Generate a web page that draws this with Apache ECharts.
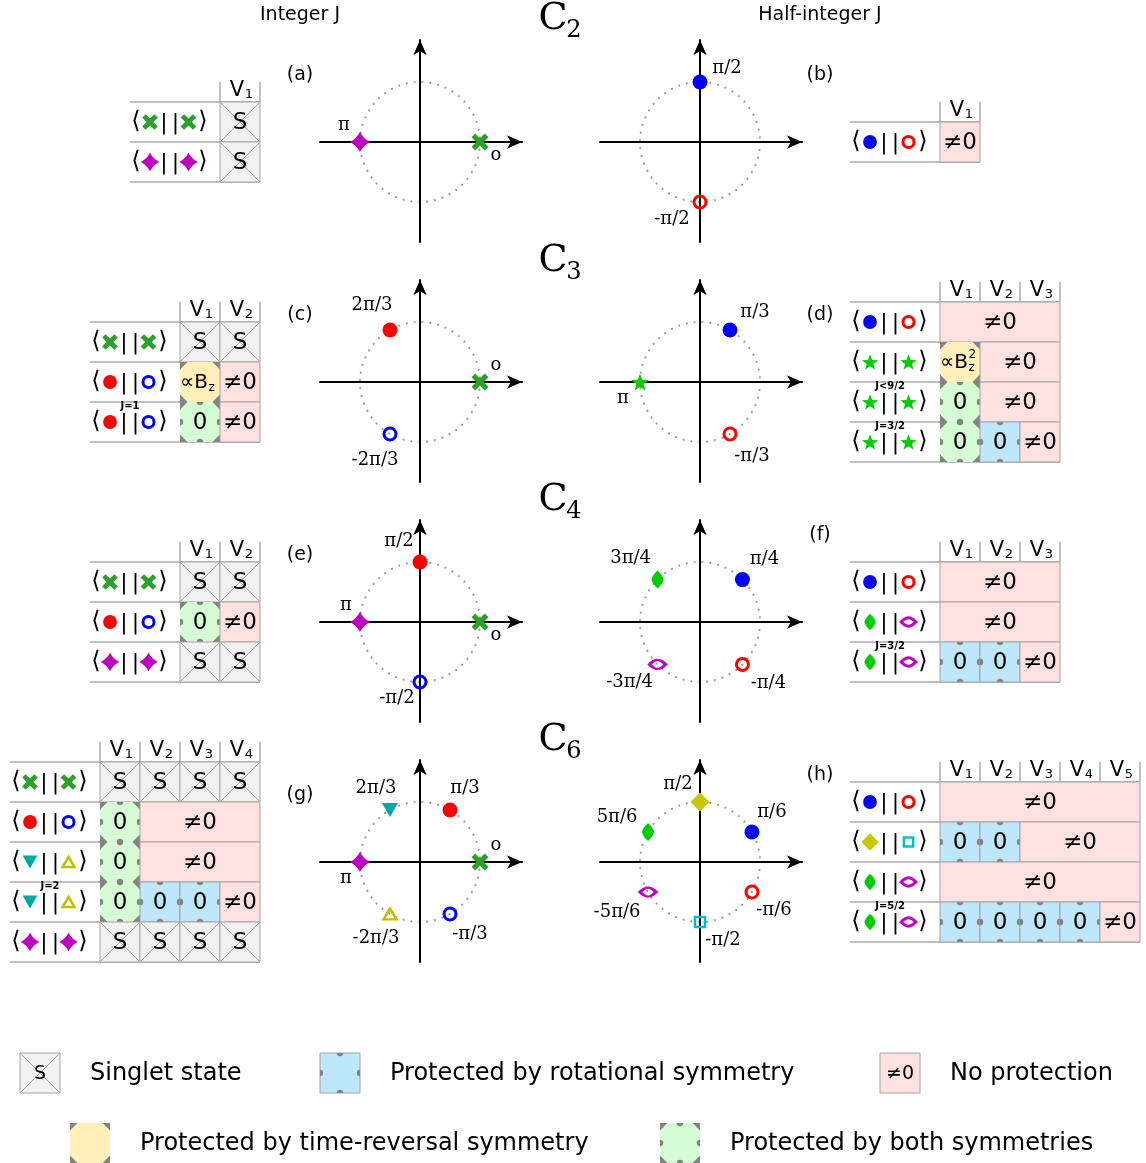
<!DOCTYPE html>
<html><head><meta charset="utf-8">
<script src="https://cdn.jsdelivr.net/npm/echarts@6/dist/echarts.min.js"></script>
<style>html,body{margin:0;padding:0;background:#fff}#c{width:1146px;height:1163px}</style>
</head><body><div id="c"></div>
<script>
// ================= DATA =================
const columnTitles = ['Integer J', 'Half-integer J'];
const groupSubs = ['2', '3', '4', '6'];
const panelNames = ['(a)', '(b)', '(c)', '(d)', '(e)', '(f)', '(g)', '(h)'];

// unit-circle panels: angle (degrees), marker, tick label
const aAngles = [180, 0];               const aMarks = ['D4', 'X'];                 const aLabels = ['π', 'o'];
const bAngles = [90, -90];              const bMarks = ['BDOT', 'RRING'];           const bLabels = ['π/2', '-π/2'];
const cAngles = [120, 0, -120];         const cMarks = ['RDOT', 'X', 'BRING'];      const cLabels = ['2π/3', 'o', '-2π/3'];
const dAngles = [60, 180, -60];         const dMarks = ['BDOT', 'STAR', 'RRING'];   const dLabels = ['π/3', 'π', '-π/3'];
const eAngles = [90, 180, 0, -90];      const eMarks = ['RDOT', 'D4', 'X', 'BRING']; const eLabels = ['π/2', 'π', 'o', '-π/2'];
const fAngles = [135, 45, -135, -45];   const fMarks = ['LEAF', 'BDOT', 'EYE', 'RRING']; const fLabels = ['3π/4', 'π/4', '-3π/4', '-π/4'];
const gAngles = [120, 60, 0, 180, -120, -60]; const gMarks = ['CTRI', 'RDOT', 'X', 'D4', 'OTRI', 'BRING']; const gLabels = ['2π/3', 'π/3', 'o', 'π', '-2π/3', '-π/3'];
const hAngles = [90, 30, 150, -150, -30, -90]; const hMarks = ['YDMD', 'BDOT', 'LEAF', 'EYE', 'RRING', 'CSQ']; const hLabels = ['π/2', 'π/6', '5π/6', '-5π/6', '-π/6', '-π/2'];

// tables: column subscripts, row marker pairs, row superscripts, cells [type, span]
const aCols = ['1']; const aRows = [['X', 'X'], ['D4', 'D4']]; const aSups = ['', ''];
const aCells = [[['S', 1]], [['S', 1]]];
const bCols = ['1']; const bRows = [['BDOT', 'RRING']]; const bSups = [''];
const bCells = [[['N', 1]]];
const cCols = ['1', '2']; const cRows = [['X', 'X'], ['RDOT', 'BRING'], ['RDOT', 'BRING']]; const cSups = ['', '', 'J=1'];
const cCells = [[['S', 1], ['S', 1]], [['T', 1], ['N', 1]], [['B', 1], ['N', 1]]];
const dCols = ['1', '2', '3']; const dRows = [['BDOT', 'RRING'], ['STAR', 'STAR'], ['STAR', 'STAR'], ['STAR', 'STAR']]; const dSups = ['', '', 'J<9/2', 'J=3/2'];
const dCells = [[['N', 3]], [['T2', 1], ['N', 2]], [['B', 1], ['N', 2]], [['B', 1], ['R', 1], ['N', 1]]];
const eCols = ['1', '2']; const eRows = [['X', 'X'], ['RDOT', 'BRING'], ['D4', 'D4']]; const eSups = ['', '', ''];
const eCells = [[['S', 1], ['S', 1]], [['B', 1], ['N', 1]], [['S', 1], ['S', 1]]];
const fCols = ['1', '2', '3']; const fRows = [['BDOT', 'RRING'], ['LEAF', 'EYE'], ['LEAF', 'EYE']]; const fSups = ['', '', 'J=3/2'];
const fCells = [[['N', 3]], [['N', 3]], [['R', 1], ['R', 1], ['N', 1]]];
const gCols = ['1', '2', '3', '4']; const gRows = [['X', 'X'], ['RDOT', 'BRING'], ['CTRI', 'OTRI'], ['CTRI', 'OTRI'], ['D4', 'D4']]; const gSups = ['', '', '', 'J=2', ''];
const gCells = [[['S', 1], ['S', 1], ['S', 1], ['S', 1]], [['B', 1], ['N', 3]], [['B', 1], ['N', 3]], [['B', 1], ['R', 1], ['R', 1], ['N', 1]], [['S', 1], ['S', 1], ['S', 1], ['S', 1]]];
const hCols = ['1', '2', '3', '4', '5']; const hRows = [['BDOT', 'RRING'], ['YDMD', 'CSQ'], ['LEAF', 'EYE'], ['LEAF', 'EYE']]; const hSups = ['', '', '', 'J=5/2'];
const hCells = [[['N', 5]], [['R', 1], ['R', 1], ['N', 3]], [['N', 5]], [['R', 1], ['R', 1], ['R', 1], ['R', 1], ['N', 1]]];

const legendTypes = ['S', 'R', 'N', 'T', 'B'];
const legendTexts = ['Singlet state', 'Protected by rotational symmetry', 'No protection', 'Protected by time-reversal symmetry', 'Protected by both symmetries'];

// ================= STYLE / LAYOUT =================
const MARKS = {
  X:    {path: 'M0,3.5L3.5,0L8,4.5L12.5,0L16,3.5L11.5,8L16,12.5L12.5,16L8,11.5L3.5,16L0,12.5L4.5,8Z', w: 17, h: 17, fill: '#2ca02c'},
  D4:   {path: 'M10,0Q13.4,6.6 20,10Q13.4,13.4 10,20Q6.6,13.4 0,10Q6.6,6.6 10,0Z', w: 20, h: 20, fill: '#bf00bf'},
  RDOT: {shape: 'circle', w: 15, h: 15, fill: '#ff0000'},
  BDOT: {shape: 'circle', w: 15, h: 15, fill: '#0000ff'},
  RRING:{shape: 'circle', w: 12, h: 12, stroke: '#ff0000', lw: 3},
  BRING:{shape: 'circle', w: 12, h: 12, stroke: '#0000ff', lw: 3},
  CTRI: {path: 'M0,0L16,0L8,14Z', w: 16, h: 14, fill: '#00a8a8'},
  OTRI: {path: 'M8,0L16,14L0,14Z', w: 13, h: 11, stroke: '#c0c000', lw: 2.5},
  STAR: {path: 'M10,0L12.35,6.76L19.51,6.91L13.8,11.24L15.88,18.09L10,14L4.12,18.09L6.2,11.24L0.49,6.91L7.65,6.76Z', w: 18, h: 17, fill: '#00cc00'},
  LEAF: {path: 'M6,0C10,4 12,7 12,9C12,11 10,14 6,18C2,14 0,11 0,9C0,7 2,4 6,0Z', w: 12, h: 18, fill: '#00cc00'},
  EYE:  {path: 'M0,5C3,2 6,0 9,0C12,0 15,2 18,5C15,8 12,10 9,10C6,10 3,8 0,5Z', w: 16, h: 9, stroke: '#c000c0', lw: 3},
  YDMD: {path: 'M9,0L18,9L9,18L0,9Z', w: 19, h: 19, fill: '#c8c800'},
  CSQ:  {shape: 'rect', w: 10, h: 10, stroke: '#00c0c0', lw: 2.5}
};

const PANELS = [
  {angles: aAngles, marks: aMarks, labels: aLabels, center: [420, 142], off: [[-16, -17], [16, 13]]},
  {angles: bAngles, marks: bMarks, labels: bLabels, center: [700, 142], off: [[27, -14], [-28, 17]]},
  {angles: cAngles, marks: cMarks, labels: cLabels, center: [420, 382], off: [[-18, -25], [16, -17], [-15, 26]]},
  {angles: dAngles, marks: dMarks, labels: dLabels, center: [700, 382], off: [[25, -18], [-17, 16], [22, 22]]},
  {angles: eAngles, marks: eMarks, labels: eLabels, center: [420, 622], off: [[-21, -21], [-14, -17], [16, 13], [-23, 16]]},
  {angles: fAngles, marks: fMarks, labels: fLabels, center: [700, 622], off: [[-27, -21], [22, -20], [-28, 18], [26, 19]]},
  {angles: gAngles, marks: gMarks, labels: gLabels, center: [420, 862], off: [[-14, -22], [15, -22], [16, -17], [-14, 16], [-14, 24], [20, 20]]},
  {angles: hAngles, marks: hMarks, labels: hLabels, center: [700, 862], off: [[-22, -18], [20, -20], [-31, -15], [-31, 20], [22, 18], [23, 18]]}
];

const TABLES = [
  {cols: aCols, rows: aRows, sups: aSups, cells: aCells, side: 'L', rowTop: 102},
  {cols: bCols, rows: bRows, sups: bSups, cells: bCells, side: 'R', rowTop: 122},
  {cols: cCols, rows: cRows, sups: cSups, cells: cCells, side: 'L', rowTop: 322},
  {cols: dCols, rows: dRows, sups: dSups, cells: dCells, side: 'R', rowTop: 302},
  {cols: eCols, rows: eRows, sups: eSups, cells: eCells, side: 'L', rowTop: 562},
  {cols: fCols, rows: fRows, sups: fSups, cells: fCells, side: 'R', rowTop: 562},
  {cols: gCols, rows: gRows, sups: gSups, cells: gCells, side: 'L', rowTop: 762},
  {cols: hCols, rows: hRows, sups: hSups, cells: hCells, side: 'R', rowTop: 782}
];

const R_PX = 60, LABW = 2.25;
const LINE = '#a8a8a8', CELL_BORDER = '#a4a4a4', GREY = '#838383';
const COL = {S: '#f2f2f2', N: '#ffe1e1', R: '#bee7fc', T: '#fff0ba', T2: '#fff0ba', B: '#d6fcd6'};
const SANS = '"DejaVu Sans", sans-serif', SERIF = '"DejaVu Serif", serif';

function txt(s, x, y, size, o) {
  o = o || {};
  const a = o.align || 'center';
  return {type: 'text', silent: true, style: {text: s, x: x, y: y, font: (o.bold ? 'bold ' : '') + size + 'px ' + (o.family || SANS),
    fill: o.color || '#000', align: a, verticalAlign: 'middle', textAlign: a, textVerticalAlign: 'middle'}};
}
function notches(x, y, w, h) {
  const r = 3.2, P = Math.PI;
  const mk = (cx, cy, s, e) => ({type: 'sector', shape: {cx: cx, cy: cy, r: r, r0: 0, startAngle: s, endAngle: e, clockwise: true}, style: {fill: GREY}});
  return [mk(x + w / 2, y, 0, P), mk(x + w / 2, y + h, P, 2 * P), mk(x, y + h / 2, -P / 2, P / 2), mk(x + w, y + h / 2, P / 2, 3 * P / 2)];
}
function cellElems(t, x, y, w, h, fs, legend) {
  const cx = x + w / 2, cy = y + h / 2, el = [];
  if (t === 'S') {
    el.push({type: 'rect', shape: {x: x, y: y, width: w, height: h}, style: {fill: COL.S, stroke: CELL_BORDER, lineWidth: 1}});
    el.push({type: 'line', shape: {x1: x, y1: y, x2: x + w, y2: y + h}, style: {stroke: CELL_BORDER, lineWidth: 1}});
    el.push({type: 'line', shape: {x1: x + w, y1: y, x2: x, y2: y + h}, style: {stroke: CELL_BORDER, lineWidth: 1}});
    el.push(txt('S', cx, cy + 1, fs));
  } else if (t === 'N') {
    el.push({type: 'rect', shape: {x: x, y: y, width: w, height: h}, style: {fill: COL.N, stroke: CELL_BORDER, lineWidth: 1}});
    el.push(txt('≠0', cx, cy + 1, fs));
  } else if (t === 'R') {
    el.push({type: 'rect', shape: {x: x, y: y, width: w, height: h}, style: {fill: COL.R, stroke: CELL_BORDER, lineWidth: 1}});
    notches(x, y, w, h).forEach(e => el.push(e));
    if (!legend) el.push(txt('0', cx, cy + 1, fs));
  } else {
    const c = 7.5;
    el.push({type: 'rect', shape: {x: x, y: y, width: w, height: h}, style: {fill: GREY}});
    el.push({type: 'polygon', shape: {points: [[x + c, y], [x + w - c, y], [x + w, y + c], [x + w, y + h - c], [x + w - c, y + h], [x + c, y + h], [x, y + h - c], [x, y + c]]}, style: {fill: COL[t]}});
    if (t === 'B') notches(x, y, w, h).forEach(e => el.push(e));
    if (!legend) {
      if (t === 'B') el.push(txt('0', cx, cy + 1, fs));
      else {
        el.push(txt('∝B', cx + 8, cy + 1, 20, {align: 'right'}));
        el.push(txt('z', cx + 8.5, cy + 6, 12, {align: 'left'}));
        if (t === 'T2') el.push(txt('2', cx + 8.5, cy - 7, 12, {align: 'left'}));
      }
    }
  }
  return el;
}
function markEl(k, cx, cy, s) {
  const m = MARKS[k], w = m.w * s, h = m.h * s;
  const style = m.fill ? {fill: m.fill} : {fill: 'none', stroke: m.stroke, lineWidth: m.lw};
  if (m.path) return {type: 'path', shape: {pathData: m.path, x: cx - w / 2, y: cy - h / 2, width: w, height: h, layout: 'cover'}, style: style};
  if (m.shape === 'circle') return {type: 'circle', shape: {cx: cx, cy: cy, r: w / 2}, style: style};
  return {type: 'rect', shape: {x: cx - w / 2, y: cy - h / 2, width: w, height: h}, style: style};
}
function symOf(k) {
  const m = MARKS[k];
  return {
    symbol: m.path ? 'path://' + m.path : m.shape,
    symbolSize: [m.w, m.h],
    itemStyle: m.fill ? {color: m.fill, opacity: 1} : {color: 'rgba(0,0,0,0)', borderColor: m.stroke, borderWidth: m.lw, opacity: 1}
  };
}

// ================= BUILD OPTION =================
const grid = [], xAxis = [], yAxis = [], polar = [], angleAxis = [], radiusAxis = [], series = [];
const hidden = {axisLine: {show: false}, axisTick: {show: false}, axisLabel: {show: false}, splitLine: {show: false}};

PANELS.forEach((P, i) => {
  const cx = P.center[0], cy = P.center[1];
  grid.push({left: cx - 100, top: cy - 102, width: 202, height: 202, outerBoundsMode: 'none', containLabel: false});
  const ax = {gridIndex: i, type: 'value', min: -100 / R_PX, max: 102 / R_PX,
    axisLine: {show: true, onZero: true, symbol: ['none', 'arrow'], symbolSize: [10, 15], lineStyle: {color: '#000', width: 2}},
    axisTick: {show: false}, axisLabel: {show: false}, splitLine: {show: false}};
  xAxis.push(Object.assign({}, ax));
  yAxis.push(Object.assign({}, ax));
  polar.push({center: [cx, cy], radius: R_PX});
  angleAxis.push({polarIndex: i, type: 'value', min: -180, max: 180, startAngle: 180, clockwise: false,
    axisLine: {show: true, lineStyle: {color: '#999999', width: 2.2, type: [0.01, 7.9], cap: 'round'}},
    axisTick: {show: false}, axisLabel: {show: false}, splitLine: {show: false}, splitArea: {show: false}});
  radiusAxis.push(Object.assign({polarIndex: i, type: 'value', min: 0, max: 1}, hidden));
  series.push({
    type: 'scatter', coordinateSystem: 'polar', polarIndex: i, silent: true, z: 5, animation: false,
    itemStyle: {opacity: 1},
    data: P.angles.map((a, j) => Object.assign({
      value: [1, a],
      label: {show: true, formatter: P.labels[j], position: 'inside', offset: P.off[j], color: '#000', opacity: 1, fontFamily: SERIF, fontSize: 18}
    }, symOf(P.marks[j])))
  });
});

TABLES.forEach((T, ti) => {
  const gi = PANELS.length + ti;
  const n = T.cols.length, m = T.rows.length;
  const left = T.side === 'L' ? 260 - 90 - 40 * n : 850;
  grid.push({left: left, top: T.rowTop - 20, width: 90 + 40 * n, height: 20 + 40 * m, outerBoundsMode: 'none', containLabel: false});
  xAxis.push(Object.assign({gridIndex: gi, type: 'value', min: -LABW, max: n, show: false}, hidden));
  yAxis.push(Object.assign({gridIndex: gi, type: 'value', min: -0.5, max: m, inverse: true, show: false}, hidden));
  const items = [];
  for (let r = 0; r <= m; r++) items.push({k: 'h', x: -LABW, y: r});
  for (let c = 0; c <= n; c++) items.push({k: 'v', x: c, y: -0.5});
  T.cells.forEach((row, r) => { let c = 0; row.forEach(cell => { items.push({k: 'c', x: c, y: r, t: cell[0], s: cell[1]}); c += cell[1]; }); });
  T.rows.forEach((pair, r) => items.push({k: 'l', x: -LABW, y: r, pair: pair, sup: T.sups[r]}));
  T.cols.forEach((v, c) => items.push({k: 'hd', x: c, y: -0.5, v: v}));
  series.push({
    type: 'custom', coordinateSystem: 'cartesian2d', xAxisIndex: gi, yAxisIndex: gi, clip: false, silent: true, animation: false,
    data: items.map((it, i) => [it.x, it.y, i]),
    encode: {x: 0, y: 1},
    renderItem: function (params, api) {
      const it = items[api.value(2)];
      if (it.k === 'h') {
        const p = api.coord([-LABW, it.y]), q = api.coord([n, it.y]);
        return {type: 'line', shape: {x1: p[0], y1: p[1], x2: q[0], y2: q[1]}, style: {stroke: LINE, lineWidth: 1.5}};
      }
      if (it.k === 'v') {
        const p = api.coord([it.x, -0.5]), q = api.coord([it.x, 0]);
        return {type: 'line', shape: {x1: p[0], y1: p[1], x2: q[0], y2: q[1]}, style: {stroke: LINE, lineWidth: 1.5}};
      }
      if (it.k === 'c') {
        const p = api.coord([it.x, it.y]), q = api.coord([it.x + it.s, it.y + 1]);
        return {type: 'group', children: cellElems(it.t, p[0], p[1], q[0] - p[0], q[1] - p[1], 23, false)};
      }
      if (it.k === 'l') {
        const p = api.coord([-LABW, it.y + 0.5]);
        const x0 = p[0], cy = p[1];
        const ch = [
          txt('⟨', x0 + 6, cy, 24), markEl(it.pair[0], x0 + 20, cy, 0.92),
          txt('|', x0 + 34, cy + 1, 22), txt('|', x0 + 45.5, cy + 1, 22),
          markEl(it.pair[1], x0 + 58.5, cy, 0.92), txt('⟩', x0 + 73, cy, 24)
        ];
        if (it.sup) ch.push(txt(it.sup, x0 + 40, cy - 16, 10, {bold: true}));
        return {type: 'group', children: ch};
      }
      const p = api.coord([it.x + 0.5, 0]);
      return {type: 'group', children: [txt('V', p[0] - 3, p[1] - 11, 21), txt(it.v, p[0] + 9, p[1] - 7, 13)]};
    }
  });
});

// annotations and legend
const graphics = [];
graphics.push(txt(columnTitles[0], 300, 15, 19));
graphics.push(txt(columnTitles[1], 820, 15, 19));
const cY = [19, 261, 500, 740];
groupSubs.forEach((s, i) => {
  graphics.push(txt('C', 553, cY[i], 38, {family: SERIF}));
  graphics.push(txt(s, 574, cY[i] + 12, 24, {family: SERIF}));
});
const panelLabelPos = [[300, 75], [820, 75], [300, 315], [820, 315], [300, 555], [820, 535], [300, 795], [820, 775]];
panelNames.forEach((s, i) => graphics.push(txt(s, panelLabelPos[i][0], panelLabelPos[i][1], 19)));
const legendPos = [[20, 1053, 90], [320, 1053, 390], [880, 1053, 950], [70, 1123, 140], [660, 1123, 730]];
legendTypes.forEach((t, i) => {
  const L = legendPos[i];
  graphics.push({type: 'group', children: cellElems(t, L[0], L[1], 40, 40, 19, true)});
  graphics.push(txt(legendTexts[i], L[2], L[1] + 21, 24, {align: 'left'}));
});

const chart = echarts.init(document.getElementById('c'), null, {renderer: 'canvas'});
chart.setOption({
  animation: false,
  backgroundColor: '#fff',
  grid: grid, xAxis: xAxis, yAxis: yAxis,
  polar: polar, angleAxis: angleAxis, radiusAxis: radiusAxis,
  series: series,
  graphic: {elements: graphics}
});
</script>
</body></html>
